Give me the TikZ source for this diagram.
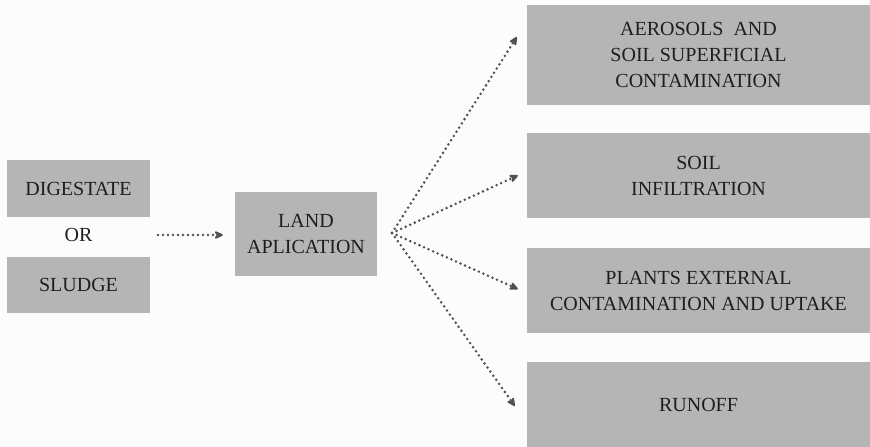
\documentclass[tikz,border=0pt]{standalone}
\usepackage{fontspec}
\setmainfont{Liberation Serif}
\usepackage{tikz}
\usetikzlibrary{arrows.meta,positioning,calc}

\definecolor{boxgray}{HTML}{B5B5B5}
\definecolor{inkgray}{HTML}{1E1E1E}
\definecolor{dotgray}{HTML}{505050}
\definecolor{paper}{HTML}{FCFCFC}

\begin{document}
\begin{tikzpicture}[x=1pt,y=-1pt,
    box/.style={fill=boxgray,draw=none,inner sep=0pt,align=center,text=inkgray,
        font=\fontsize{20}{26}\selectfont},
    dotarrow/.style={dotgray,line width=2.8pt,line cap=round,dash pattern=on 0pt off 5pt,
        -{Stealth[length=11pt,width=10pt,round]}}]
    % Page
    \fill[paper] (0,0) rectangle (870,447);
    \useasboundingbox (0,0) rectangle (870,447);

    % Inputs
    \node[box,minimum width=143pt,minimum height=57pt] (dig) at (78.5,188.5) {DIGESTATE};
    \node[text=inkgray,font=\fontsize{20}{26}\selectfont] (or) at (78.5,235) {OR};
    \node[box,minimum width=143pt,minimum height=56pt] (slu) at (78.5,285) {SLUDGE};

    % Land application
    \node[box,minimum width=142pt,minimum height=84pt] (land) at (306,234) {LAND\\APLICATION};

    % Pathways
    \node[box,minimum width=343pt,minimum height=100pt] (aer) at (698.5,55)
        {AEROSOLS\ \ AND\\SOIL SUPERFICIAL\\CONTAMINATION};
    \node[box,minimum width=343pt,minimum height=85pt] (inf) at (698.5,175.5) {SOIL\\INFILTRATION};
    \node[box,minimum width=343pt,minimum height=85pt] (pla) at (698.5,290.5)
        {PLANTS EXTERNAL\\CONTAMINATION AND UPTAKE};
    \node[box,minimum width=343pt,minimum height=85pt] (run) at (698.5,404.5) {RUNOFF};

    % Arrows
    \coordinate (in) at (158,235);
    \coordinate (fan) at (392,233);
    \draw[dotarrow] (in) -- ([xshift=-12pt]land.west|-in);
    \draw[dotarrow] (fan) -- ([xshift=-10pt,yshift=18pt]aer.west);
    \draw[dotarrow] (fan) -- ([xshift=-9pt]inf.west);
    \draw[dotarrow] (fan) -- ([xshift=-9pt,yshift=1.5pt]pla.west);
    \draw[dotarrow] (fan) -- ([xshift=-12pt,yshift=-1.5pt]run.west);
\end{tikzpicture}
\end{document}
